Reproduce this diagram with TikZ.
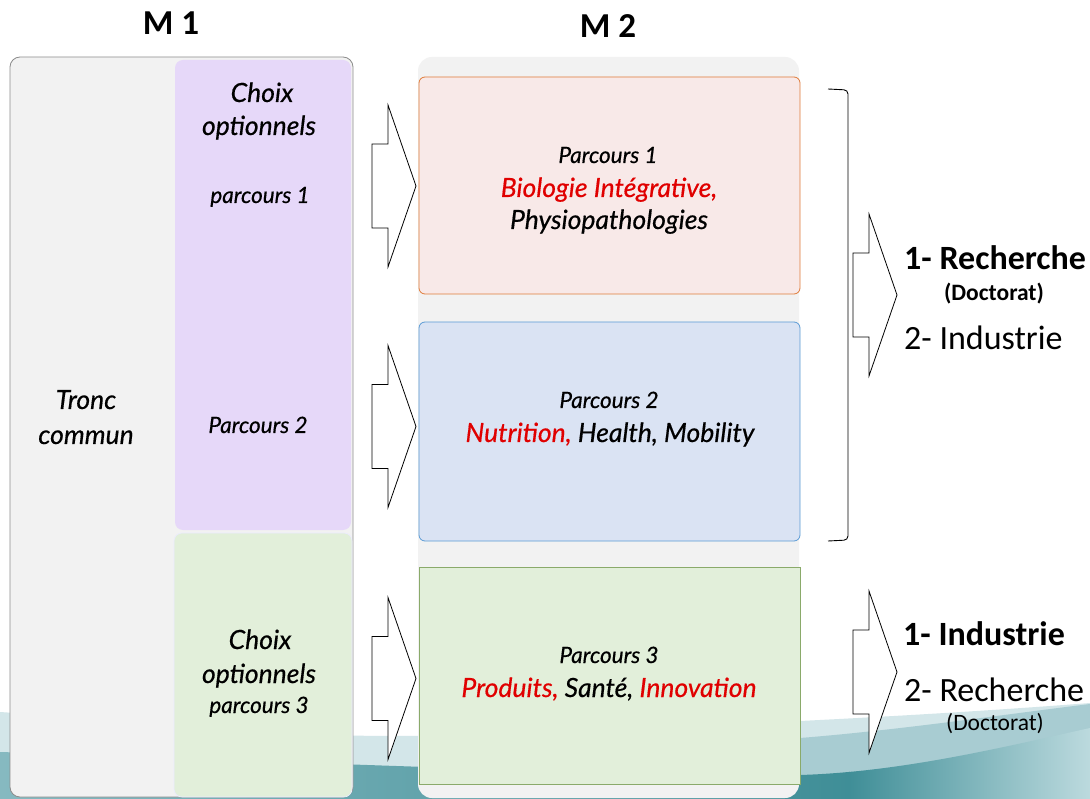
\documentclass[tikz,border=0pt]{standalone}
\usepackage{fontspec}
\setmainfont{Carlito}
\newfontfamily\gillfont[ItalicFeatures={FakeBold=0.5}]{Lato}
\definecolor{bggray}{HTML}{F2F2F2}
\definecolor{edgegray}{HTML}{8C8C8C}
\definecolor{lav}{HTML}{E6D8F9}
\definecolor{palegreen}{HTML}{E2EFDA}
\definecolor{pinkfill}{HTML}{F8E9E8}
\definecolor{orangeedge}{HTML}{E07B39}
\definecolor{bluefill}{HTML}{DAE3F3}
\definecolor{blueedge}{HTML}{5B9BD5}
\definecolor{greenedge}{HTML}{8AAA6A}
\definecolor{txtred}{HTML}{E00000}
\definecolor{tealA}{HTML}{D3E6E9}
\definecolor{tealB}{HTML}{A8CCD2}
\definecolor{tealL}{HTML}{86B9C0}
\definecolor{tealM}{HTML}{3F8E97}
\definecolor{tealR}{HTML}{BCDADE}
\begin{document}
\begin{tikzpicture}[x=1pt,y=-1pt,
  panel/.style={inner sep=0pt,outer sep=0pt},
  gi/.style={anchor=base, inner sep=0pt},
  gbig/.style={gi, font=\gillfont\itshape\fontsize{26.5}{30}\selectfont},
  gsmall/.style={gi, font=\gillfont\itshape\fontsize{22.5}{26}\selectfont},
  cal/.style={anchor=base west, inner sep=0pt},
  blockarrow/.pic={\draw[black,line width=0.8pt,fill=white,line join=miter]
     (0,-42) -- (16,-42) -- (16,-81) -- (44,0) -- (16,81) -- (16,42) -- (0,42) -- cycle;}
]
\useasboundingbox (0,0) rectangle (1090,799);
\fill[white] (0,0) rectangle (1090,799);
% background swoosh
\fill[tealA] (0,712) .. controls (150,722) and (280,736) .. (390,736)
   .. controls (550,736) and (700,726) .. (800,721)
   .. controls (900,716) and (1000,710) .. (1090,703) -- (1090,799) -- (0,799) -- cycle;
\fill[tealB] (450,760) .. controls (600,752) and (700,742) .. (800,738)
   .. controls (900,730) and (1000,715) .. (1090,704) -- (1090,799) -- (450,799) -- cycle;
\begin{scope}
  \clip (0,752) .. controls (200,758) and (600,776) .. (800,775)
     .. controls (900,772) and (1000,748) .. (1090,728) -- (1090,799) -- (0,799) -- cycle;
  \shade[left color=tealL, right color=tealM] (0,700) rectangle (850,799);
  \shade[left color=tealM, right color=tealR] (849,700) rectangle (1090,799);
\end{scope}

% titles
\node[font=\bfseries\fontsize{35}{40}\selectfont, anchor=base, inner sep=0pt] (m1) at (171,35) {M 1};
\node[font=\bfseries\fontsize{35}{40}\selectfont, anchor=base, inner sep=0pt] (m2) at (608,38) {M 2};

% M1 column
\node[panel, draw=edgegray, line width=0.8pt, fill=bggray, rounded corners=10,
      minimum width=343, minimum height=740] (tronc) at (181.5,427) {};
\node[panel, fill=lav, rounded corners=8, minimum width=176, minimum height=470] (opt12) at (263,295) {};
\node[panel, fill=palegreen, draw=blue!8, line width=0.6pt, rounded corners=8,
      minimum width=178, minimum height=264] (opt3) at (263,665) {};

\node[gbig] (tr1) at (86,409) {Tronc};
\node[gbig] (tr2) at (86,444) {commun};

\node[gbig] (c1a) at (262,102) {Choix};
\node[gbig] (c1b) at (259,135) {optionnels};
\node[gsmall] (c1c) at (260,203) {parcours 1};
\node[gsmall] (c2) at (258,433) {Parcours 2};
\node[gbig] (c3a) at (260,649) {Choix};
\node[gbig] (c3b) at (259,683) {optionnels};
\node[gsmall] (c3c) at (259,713) {parcours 3};

% M2 column
\node[panel, fill=bggray, rounded corners=14, minimum width=381, minimum height=741] (m2bg) at (608.5,427.5) {};
\node[panel, fill=pinkfill, draw=orangeedge, line width=0.8pt, rounded corners=6,
      minimum width=381, minimum height=217] (p1) at (609.5,185.5) {};
\node[panel, fill=bluefill, draw=blueedge, line width=0.8pt, rounded corners=6,
      minimum width=381, minimum height=219] (p2) at (609.5,431.5) {};
\node[panel, fill=palegreen, draw=greenedge, line width=0.8pt,
      minimum width=381, minimum height=217] (p3) at (609.5,675.5) {};

\node[gsmall] (p1a) at (608,163) {Parcours 1};
\node[gbig, text=txtred] (p1b) at (609,197) {Biologie Intégrative,};
\node[gbig] (p1c) at (609,229) {Physiopathologies};

\node[gsmall] (p2a) at (609,408) {Parcours 2};
\node[gbig] (p2b) at (610,442) {\textcolor{txtred}{Nutrition,} Health, Mobility};

\node[gsmall] (p3a) at (609,663) {Parcours 3};
\node[gbig] (p3b) at (609,697) {\textcolor{txtred}{Produits,} Santé, \textcolor{txtred}{Innovation}};

% block arrows
\pic at (372,186) {blockarrow};
\pic at (372,426.5) {blockarrow};
\pic at (372,678.5) {blockarrow};
\pic at (853,295) {blockarrow};
\pic at (853,672) {blockarrow};

% bracket
\draw[black, line width=0.9pt, rounded corners=4] (828,89) -- (848,90) -- (848,540) -- (828,541);

% outcomes
\node[cal, font=\bfseries\fontsize{34}{38}\selectfont] (r1) at (904,270) {1- Recherche};
\node[font=\bfseries\fontsize{23.5}{26}\selectfont, anchor=base, inner sep=0pt] (r1d) at (994,301) {(Doctorat)};
\node[cal, font=\fontsize{34}{38}\selectfont] (r2) at (904,350) {2- Industrie};

\node[cal, font=\bfseries\fontsize{34}{38}\selectfont] (s1) at (903,645) {1- Industrie};
\node[cal, font=\fontsize{34}{38}\selectfont] (s2) at (904,701) {2- Recherche};
\node[font=\fontsize{23.5}{26}\selectfont, anchor=base, inner sep=0pt] (s2d) at (995,730) {(Doctorat)};
\end{tikzpicture}
\end{document}
